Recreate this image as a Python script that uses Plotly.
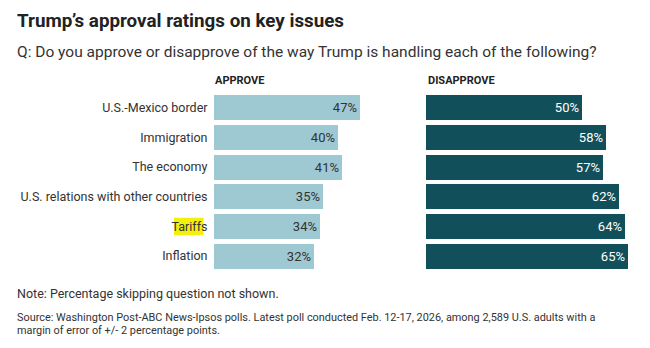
import plotly.graph_objects as go
from plotly.subplots import make_subplots

# Survey issues, top to bottom
issues = [
    "U.S.-Mexico border",
    "Immigration",
    "The economy",
    "U.S. relations with other countries",
    "Tariffs",
    "Inflation",
]
approve = [47, 40, 41, 35, 34, 32]
disapprove = [50, 58, 57, 62, 64, 65]

W, H = 650, 348
FONT = "Roboto"
TEXT = "#333333"
APPROVE_COLOR = "#9fc9d2"
DISAPPROVE_COLOR = "#11505a"

PX_PER_PCT = 3.11
ROW_PITCH = 29.7
FIRST_ROW_CENTER = 107.5


def px_x(p):
    return p / W


def px_y(p):
    return 1 - p / H


fig = make_subplots(rows=1, cols=2, shared_yaxes=False, horizontal_spacing=0)

pos = list(range(len(issues)))

fig.add_trace(
    go.Bar(
        y=pos, x=approve, orientation="h",
        marker=dict(color=APPROVE_COLOR, line=dict(width=0)),
        text=[f"{v}%" for v in approve], textposition="inside",
        insidetextanchor="end",
        textfont=dict(family=FONT, size=13, color=TEXT),
        width=0.84, hoverinfo="skip",
    ),
    row=1, col=1,
)
fig.add_trace(
    go.Bar(
        y=pos, x=disapprove, orientation="h",
        marker=dict(color=DISAPPROVE_COLOR, line=dict(width=0)),
        text=[f"{v}%" for v in disapprove], textposition="inside",
        insidetextanchor="end",
        textfont=dict(family=FONT, size=13, color="white"),
        width=0.84, hoverinfo="skip",
    ),
    row=1, col=2,
)

# Plot geometry in pixels
x1_left = 214
x1_range = 60
x2_left = 426
x2_range = 70
top = FIRST_ROW_CENTER - ROW_PITCH / 2
bottom = top + ROW_PITCH * len(issues)

fig.update_xaxes(
    range=[0, x1_range], domain=[px_x(x1_left), px_x(x1_left + x1_range * PX_PER_PCT)],
    visible=False, row=1, col=1,
)
fig.update_xaxes(
    range=[0, x2_range], domain=[px_x(x2_left), px_x(x2_left + x2_range * PX_PER_PCT)],
    visible=False, row=1, col=2,
)
fig.update_yaxes(
    range=[len(issues) - 0.5, -0.5], domain=[px_y(bottom), px_y(top)],
    tickmode="array", tickvals=pos, ticktext=issues,
    ticks="outside", ticklen=3, tickcolor="rgba(0,0,0,0)",
    showgrid=False, zeroline=False, showline=False,
    tickfont=dict(family=FONT, size=12.5, color=TEXT),
    row=1, col=1,
)
fig.update_yaxes(
    range=[len(issues) - 0.5, -0.5], domain=[px_y(bottom), px_y(top)],
    visible=False, row=1, col=2,
)

# Yellow highlight behind "Tariff"
t_idx = issues.index("Tariffs")
fig.add_shape(
    type="rect", xref="paper", yref="y",
    x0=px_x(174), x1=px_x(203.5), y0=t_idx - 0.29, y1=t_idx + 0.29,
    fillcolor="#f3f00d", line=dict(width=0), layer="below",
)

annotations = [
    dict(text="<b>Trump’s approval ratings on key issues</b>", x=px_x(15), y=px_y(21),
         font=dict(family=FONT, size=18.8, color="#222222")),
    dict(text="Q: Do you approve or disapprove of the way Trump is handling each of the following?",
         x=px_x(15), y=px_y(52), font=dict(family=FONT, size=15.5, color=TEXT)),
    dict(text="<b>APPROVE</b>", x=px_x(213), y=px_y(81),
         font=dict(family=FONT, size=11, color="#222222")),
    dict(text="<b>DISAPPROVE</b>", x=px_x(426), y=px_y(81),
         font=dict(family=FONT, size=11, color="#222222")),
    dict(text="Note: Percentage skipping question not shown.", x=px_x(15), y=px_y(293),
         font=dict(family=FONT, size=12.5, color=TEXT)),
    dict(text="Source: Washington Post-ABC News-Ipsos polls. Latest poll conducted Feb. 12-17, 2026, among 2,589 U.S. adults with a",
         x=px_x(15), y=px_y(317), font=dict(family=FONT, size=10.9, color=TEXT)),
    dict(text="margin of error of +/- 2 percentage points.",
         x=px_x(15), y=px_y(330), font=dict(family=FONT, size=10.9, color=TEXT)),
]
for a in annotations:
    a.update(xref="paper", yref="paper", xanchor="left", yanchor="middle",
             showarrow=False, align="left")
    fig.add_annotation(**a)

fig.update_layout(
    width=W, height=H,
    margin=dict(l=0, r=0, t=0, b=0),
    paper_bgcolor="white", plot_bgcolor="white",
    showlegend=False, bargap=0,
    font=dict(family=FONT, color=TEXT),
    uniformtext=dict(minsize=8, mode="show"),
)

fig.write_html("out.html")
